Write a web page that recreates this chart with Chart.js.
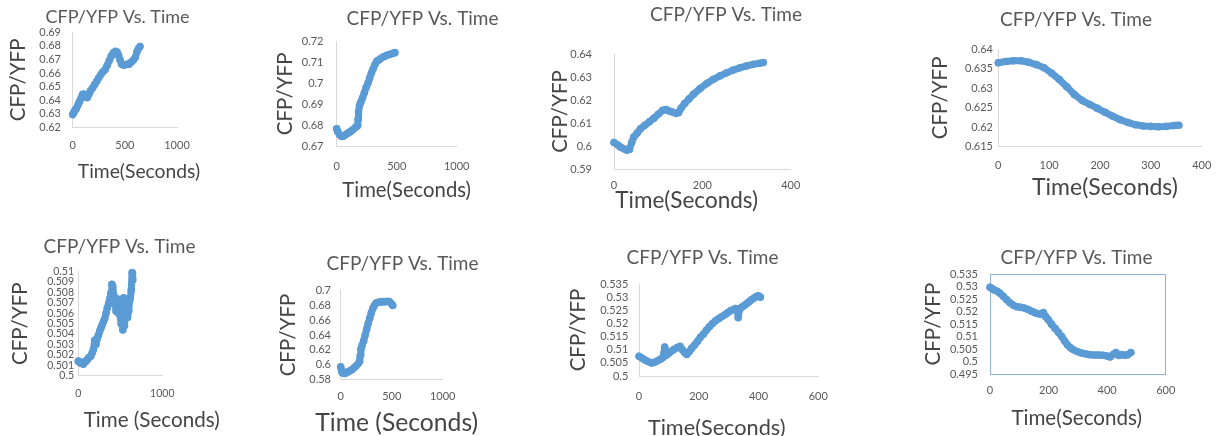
<!DOCTYPE html>
<html>
<head>
<meta charset="utf-8">
<script src="https://cdn.jsdelivr.net/npm/chart.js@4.4.1/dist/chart.umd.min.js"></script>
<style>
html,body{margin:0;padding:0;width:1217px;height:436px;overflow:hidden;background:#ffffff;}
canvas{position:absolute;}
</style>
</head>
<body>
<script>
// ---------- text ----------
const chartTitle = 'CFP/YFP Vs. Time';
const yAxisTitle = 'CFP/YFP';
const xAxisTitleA = 'Time(Seconds)';
const xAxisTitleB = 'Time (Seconds)';

// ---------- panel 1 (top row, 1st) ----------
const p1Time  = [0,10,20,35,50,65,80,95,110,125,140,155,170,190,210,230,250,270,290,310,330,350,370,390,410,425,440,455,470,485,500,520,540,560,580,600,615,630,645];
const p1Ratio = [0.6295,0.631,0.6325,0.634,0.6365,0.639,0.6415,0.6445,0.6445,0.6425,0.642,0.6445,0.647,0.649,0.6515,0.654,0.6565,0.659,0.661,0.6625,0.6655,0.669,0.6725,0.675,0.676,0.6755,0.673,0.6695,0.6665,0.666,0.666,0.6665,0.6665,0.668,0.6695,0.6715,0.6755,0.678,0.6795];
const p1YTicks = [0.62,0.63,0.64,0.65,0.66,0.67,0.68,0.69];
const p1XTicks = [0,500,1000];

// ---------- panel 2 ----------
const p2Time  = [0,10,25,40,55,70,90,110,130,150,165,175,178,182,190,200,215,230,245,260,275,290,305,320,335,350,370,390,410,430,450,470,485];
const p2Ratio = [0.6785,0.677,0.6755,0.6748,0.675,0.6755,0.6763,0.677,0.6778,0.6788,0.6795,0.680,0.683,0.6865,0.6895,0.691,0.693,0.6955,0.698,0.700,0.7025,0.705,0.707,0.709,0.7105,0.711,0.7118,0.7125,0.713,0.7135,0.7138,0.7142,0.7145];
const p2YTicks = [0.67,0.68,0.69,0.70,0.71,0.72];
const p2XTicks = [0,500,1000];

// ---------- panel 3 ----------
const p3Time  = [0,8,15,22,29,35,40,45,52,60,70,80,90,100,110,118,125,132,140,146,152,160,170,180,195,210,225,240,255,270,285,300,315,330,338];
const p3Ratio = [0.6015,0.6005,0.5995,0.5988,0.5982,0.5985,0.6015,0.604,0.6055,0.6075,0.609,0.6105,0.612,0.6138,0.6155,0.6158,0.6152,0.6148,0.6142,0.6145,0.6165,0.6185,0.6205,0.6225,0.625,0.6272,0.629,0.6305,0.6318,0.633,0.634,0.6348,0.6355,0.636,0.6363];
const p3YTicks = [0.59,0.60,0.61,0.62,0.63,0.64];
const p3XTicks = [0,200,400];

// ---------- panel 4 ----------
const p4Time  = [0,15,30,45,60,75,90,105,120,135,150,165,180,195,210,225,240,255,270,285,300,315,330,345,355];
const p4Ratio = [0.6365,0.6368,0.637,0.637,0.6366,0.636,0.6352,0.6338,0.6322,0.6303,0.6283,0.6268,0.6258,0.6248,0.6238,0.6228,0.6219,0.6212,0.6206,0.6203,0.6202,0.6201,0.6202,0.6204,0.6205];
const p4YTicks = [0.615,0.62,0.625,0.63,0.635,0.64];
const p4XTicks = [0,100,200,300,400];

// ---------- panel 5 (bottom row, 1st) ----------
const p5Time  = [0,15,30,45,60,75,90,105,120,135,150,165,180,195,210,225,240,255,270,285,300,315,330,345,360,375,390,400,410,420,430,440,450,460,470,480,490,500,510,520,530,540,550,560,570,580,590,600,610,620,630,640,648];
const p5Ratio = [0.5014,0.5013,0.5012,0.5013,0.5011,0.5013,0.5014,0.5015,0.5017,0.5018,0.5019,0.5022,0.5025,0.5034,0.5030,0.5036,0.5039,0.5043,0.5046,0.5049,0.5052,0.5055,0.5060,0.5065,0.5069,0.5074,0.5080,0.5088,0.5086,0.5078,0.5072,0.5068,0.5062,0.5074,0.5066,0.5060,0.5073,0.5057,0.5050,0.5068,0.5044,0.5075,0.5048,0.5060,0.5070,0.5056,0.5068,0.5062,0.5072,0.5075,0.5082,0.5099,0.5092];
const p5YTicks = [0.5,0.501,0.502,0.503,0.504,0.505,0.506,0.507,0.508,0.509,0.51];
const p5XTicks = [0,1000];

// ---------- panel 6 ----------
const p6Time  = [0,8,15,25,40,55,70,90,110,130,150,170,185,192,198,210,225,240,255,270,285,300,315,330,345,360,380,400,420,440,460,480,500,510];
const p6Ratio = [0.597,0.592,0.589,0.5885,0.588,0.589,0.590,0.5915,0.593,0.5955,0.598,0.601,0.604,0.612,0.621,0.626,0.632,0.640,0.648,0.656,0.663,0.670,0.676,0.680,0.683,0.684,0.6845,0.685,0.6852,0.685,0.6855,0.685,0.682,0.680];
const p6YTicks = [0.58,0.60,0.62,0.64,0.66,0.68,0.70];
const p6XTicks = [0,500,1000];

// ---------- panel 7 ----------
const p7Time  = [0,10,20,30,42,52,62,72,80,86,90,98,108,118,128,137,145,152,160,168,176,186,196,206,216,226,236,246,256,266,276,286,296,306,316,322,328,332,336,344,352,360,368,376,384,392,400,406];
const p7Ratio = [0.5075,0.5068,0.5061,0.5055,0.5049,0.5052,0.5058,0.5064,0.5070,0.5110,0.5078,0.5085,0.5094,0.5102,0.5108,0.5113,0.5100,0.5090,0.5082,0.5093,0.5105,0.5118,0.5132,0.5148,0.5160,0.5175,0.5188,0.5200,0.5210,0.5218,0.5225,0.5232,0.5240,0.5248,0.5253,0.5257,0.5255,0.5222,0.5252,0.5262,0.5268,0.5275,0.5282,0.5290,0.5296,0.5302,0.5305,0.5300];
const p7YTicks = [0.5,0.505,0.51,0.515,0.52,0.525,0.53,0.535];
const p7XTicks = [0,200,400,600];

// ---------- panel 8 ----------
const p8Time  = [0,8,16,25,34,45,57,68,80,92,104,116,128,140,150,160,171,182,190,199,210,222,234,245,255,265,275,285,298,313,328,342,356,370,385,400,410,420,430,440,450,460,470,481];
const p8Ratio = [0.5298,0.5292,0.5286,0.5282,0.5274,0.5262,0.5248,0.5236,0.5226,0.5220,0.5218,0.5215,0.5210,0.5203,0.5198,0.5193,0.5190,0.5197,0.5180,0.5168,0.5150,0.5133,0.5116,0.5100,0.5082,0.5066,0.5055,0.5047,0.5040,0.5034,0.5030,0.5027,0.5026,0.5026,0.5025,0.5022,0.5018,0.5028,0.5036,0.5024,0.5028,0.5025,0.5027,0.5036];
const p8YTicks = [0.495,0.5,0.505,0.51,0.515,0.52,0.525,0.53,0.535];
const p8XTicks = [0,200,400,600];

// ---------- styling / layout (page pixels) ----------
const FONT = 'Lato, "Open Sans", sans-serif';
const BLUE = '#5B9BD5';
const TEXT = '#595959';
const AXIS_TITLE = '#454545';
const AXIS_LINE = '#D9D9D9';
const BOX_LINE = '#8EB4E3';

const panels = [
  {time:p1Time, ratio:p1Ratio, yt:p1YTicks, xt:p1XTicks, xTitle:xAxisTitleA,
   L:72.7, R:177, T:32.3, B:127.5, tcx:117.5, tcy:17, ts:18, ytcx:18, ys:20.5, xtcx:139, xtcy:172, xs:19.3, ks:11, ytr:61, xty:145},
  {time:p2Time, ratio:p2Ratio, yt:p2YTicks, xt:p2XTicks, xTitle:xAxisTitleA,
   L:336.7, R:456.7, T:41, B:146.7, tcx:422.5, tcy:19, ts:19, ytcx:285, ys:20.5, xtcx:406.7, xtcy:190, xs:20.3, ks:11, ytr:323.5, xty:166},
  {time:p3Time, ratio:p3Ratio, yt:p3YTicks, xt:p3XTicks, xTitle:xAxisTitleA,
   L:614, R:790.7, T:54, B:169, tcx:726, tcy:15, ts:19, ytcx:560, ys:20.5, xtcx:686.7, xtcy:201, xs:22.5, ks:11, ytr:592, xty:185},
  {time:p4Time, ratio:p4Ratio, yt:p4YTicks, xt:p4XTicks, xTitle:xAxisTitleA,
   L:998.3, R:1201.7, T:49, B:146.7, tcx:1076, tcy:20, ts:19, ytcx:940, ys:20.5, xtcx:1105, xtcy:188, xs:23, ks:11, ytr:993, xty:165.7},
  {time:p5Time, ratio:p5Ratio, yt:p5YTicks, xt:p5XTicks, xTitle:xAxisTitleB,
   L:78.3, R:162.3, T:271.7, B:375.7, tcx:119.7, tcy:247.3, ts:19, ytcx:20, ys:20.5, xtcx:151.7, xtcy:420, xs:20.6, ks:10.5, ytr:74, xty:393.3},
  {time:p6Time, ratio:p6Ratio, yt:p6YTicks, xt:p6XTicks, xTitle:xAxisTitleB,
   L:340.7, R:442.7, T:290.7, B:379.3, tcx:402.5, tcy:264, ts:19, ytcx:288.3, ys:20.5, xtcx:396.7, xtcy:422.7, xs:24.7, ks:11, ytr:331, xty:396},
  {time:p7Time, ratio:p7Ratio, yt:p7YTicks, xt:p7XTicks, xTitle:xAxisTitleA,
   L:639, R:818.3, T:284, B:376, tcx:702.5, tcy:258.3, ts:19, ytcx:578.3, ys:20.5, xtcx:716.7, xtcy:428.3, xs:21.7, ks:11, ytr:628.3, xty:396},
  {time:p8Time, ratio:p8Ratio, yt:p8YTicks, xt:p8XTicks, xTitle:xAxisTitleA, box:true,
   L:990, R:1165.7, T:274.3, B:374, tcx:1076.7, tcy:258.3, ts:19, ytcx:933.3, ys:20.5, xtcx:1076.7, xtcy:418.3, xs:20.6, ks:11, ytr:978, xty:390}
];

const fmt = v => String(parseFloat(Number(v).toFixed(6)));

// Draws the horizontal axis caption at its own position (not squeezed to the plot width)
const axisCaption = {
  id: 'axisCaption',
  afterDraw(chart, args, opts) {
    if (!opts || !opts.text) return;
    const ctx = chart.ctx;
    ctx.save();
    ctx.fillStyle = opts.color;
    ctx.font = opts.size + 'px ' + FONT;
    ctx.textAlign = 'center';
    ctx.textBaseline = 'middle';
    ctx.fillText(opts.text, opts.x, opts.y);
    ctx.restore();
  }
};

function build(p) {
  const tlh = p.ts * 1.2, ylh = p.ys * 1.2, xlh = p.xs * 1.2, klh = p.ks * 1.2;
  const cL = Math.floor(p.ytcx - ylh / 2 - 1);
  const cT = Math.floor(p.tcy - tlh / 2 - 1);
  const cW = Math.round(2 * (p.tcx - cL));
  const cB = Math.ceil(p.xtcy + xlh / 2 + 1);
  const cH = cB - cT;
  const yW = p.L - cL;
  const rightW = cL + cW - p.R;
  const padT = p.tcy - tlh / 2 - cT;
  const titleBottom = p.T - (p.tcy + tlh / 2);
  const xH = cB - p.B;
  const ytPad = p.ytcx - ylh / 2 - cL;
  const yTickPad = p.L - p.ytr;
  const xTickPad = p.xty - p.B - klh / 2;
  const lineColor = p.box ? BOX_LINE : AXIS_LINE;

  const cv = document.createElement('canvas');
  cv.width = cW; cv.height = cH;
  cv.style.left = cL + 'px'; cv.style.top = cT + 'px';
  cv.style.width = cW + 'px'; cv.style.height = cH + 'px';
  document.body.appendChild(cv);

  const tickFont = {family: FONT, size: p.ks};
  const scales = {
    x: {
      type: 'linear', position: 'bottom',
      min: p.xt[0], max: p.xt[p.xt.length - 1],
      afterBuildTicks: s => { s.ticks = p.xt.map(v => ({value: v})); },
      afterFit: s => { s.height = xH; s.paddingLeft = 0; s.paddingRight = 0; },
      grid: {display: false, drawTicks: false},
      border: {display: true, color: lineColor, width: 1},
      ticks: {color: TEXT, font: tickFont, padding: xTickPad, maxRotation: 0, autoSkip: false, callback: fmt},
      title: {display: false, text: p.xTitle}
    },
    y: {
      type: 'linear', position: 'left',
      min: p.yt[0], max: p.yt[p.yt.length - 1],
      afterBuildTicks: s => { s.ticks = p.yt.map(v => ({value: v})); },
      afterFit: s => { s.width = yW; s.paddingTop = 0; s.paddingBottom = 0; },
      grid: {display: false, drawTicks: false},
      border: {display: true, color: lineColor, width: 1},
      ticks: {color: TEXT, font: tickFont, padding: yTickPad, autoSkip: false, callback: fmt},
      title: {display: true, text: yAxisTitle, color: AXIS_TITLE, font: {family: FONT, size: p.ys}, padding: {top: ytPad, bottom: 0}}
    },
    yRight: {
      type: 'linear', position: 'right', display: true,
      afterFit: s => { s.width = rightW; },
      ticks: {display: false},
      grid: {display: false, drawTicks: false},
      border: {display: !!p.box, color: BOX_LINE, width: 1}
    }
  };
  if (p.box) {
    scales.xTop = {
      type: 'linear', position: 'top', display: true,
      afterFit: s => { s.height = 0; },
      ticks: {display: false},
      grid: {display: false, drawTicks: false},
      border: {display: true, color: BOX_LINE, width: 1}
    };
  }

  new Chart(cv, {
    type: 'scatter',
    data: {
      datasets: [{
        label: yAxisTitle,
        data: p.time.map((t, i) => ({x: t, y: p.ratio[i]})),
        showLine: true,
        borderColor: BLUE,
        backgroundColor: BLUE,
        borderWidth: 7,
        borderJoinStyle: 'round',
        borderCapStyle: 'round',
        pointRadius: 3.8,
        pointBorderWidth: 0,
        pointHoverRadius: 3.8,
        tension: 0,
        clip: false
      }]
    },
    options: {
      responsive: false,
      maintainAspectRatio: false,
      animation: false,
      devicePixelRatio: 1,
      events: [],
      layout: {padding: {left: 0, right: 0, top: padT, bottom: 0}, autoPadding: false},
      plugins: {
        legend: {display: false},
        tooltip: {enabled: false},
        title: {display: true, text: chartTitle, color: TEXT, font: {family: FONT, size: p.ts, weight: 'normal'}, padding: {top: 0, bottom: titleBottom}},
        axisCaption: {text: p.xTitle, x: p.xtcx - cL, y: p.xtcy - cT, size: p.xs, color: AXIS_TITLE}
      },
      scales: scales
    },
    plugins: [axisCaption]
  });
}

panels.forEach(build);
</script>
</body>
</html>
